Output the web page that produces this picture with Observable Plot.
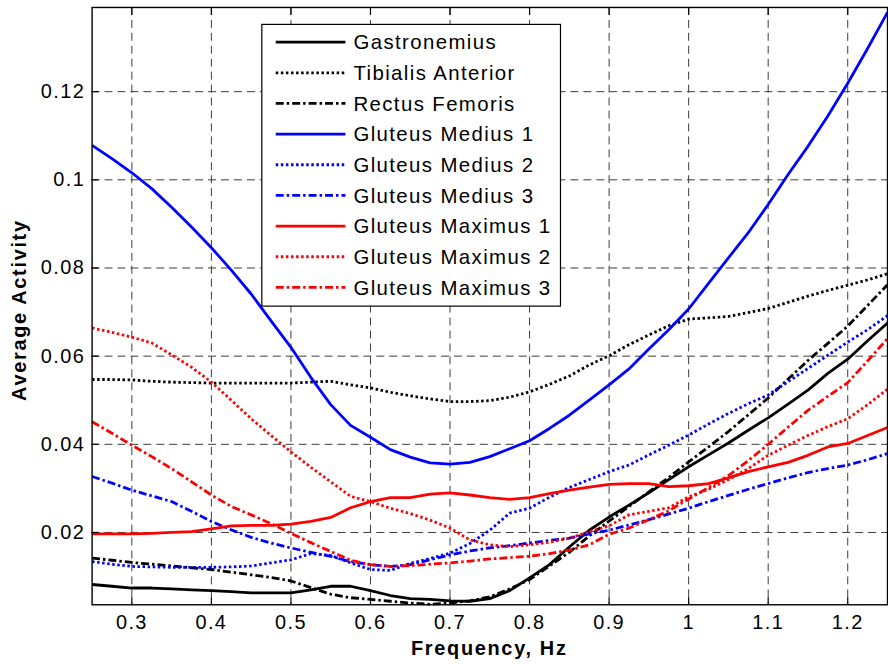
<!DOCTYPE html>
<html><head><meta charset="utf-8">
<script src="https://cdn.jsdelivr.net/npm/d3@7"></script>
<script src="https://cdn.jsdelivr.net/npm/@observablehq/plot@0.6"></script>
<style>html,body{margin:0;padding:0;overflow:hidden;background:#fff}</style>
</head><body><div id="chart"></div>
<script>
const freq = [0.25,0.275,0.3,0.325,0.35,0.375,0.4,0.425,0.45,0.475,0.5,0.525,0.55,0.575,0.6,0.625,0.65,0.675,0.7,0.725,0.75,0.775,0.8,0.825,0.85,0.875,0.9,0.925,0.95,0.975,1,1.025,1.05,1.075,1.1,1.125,1.15,1.175,1.2,1.225,1.25];

const gastronemius = [0.0082,0.0078,0.0074,0.0074,0.0072,0.0070,0.0068,0.0066,0.0063,0.0063,0.0063,0.0070,0.0078,0.0078,0.0068,0.0057,0.0050,0.0048,0.0045,0.0044,0.0050,0.0068,0.0097,0.0127,0.0167,0.0205,0.0235,0.0262,0.0290,0.0320,0.0349,0.0376,0.0403,0.0432,0.0460,0.0491,0.0523,0.0561,0.0593,0.0635,0.0675];
const tibialisAnterior = [0.0547,0.0547,0.0546,0.0543,0.0541,0.0540,0.0539,0.0539,0.0539,0.0539,0.0539,0.0541,0.0543,0.0535,0.0528,0.0518,0.0510,0.0503,0.0497,0.0497,0.0499,0.0507,0.0519,0.0536,0.0555,0.0580,0.0601,0.0626,0.0648,0.0669,0.0684,0.0687,0.0690,0.0699,0.0708,0.0722,0.0736,0.0749,0.0761,0.0773,0.0787];
const rectusFemoris = [0.0142,0.0137,0.0132,0.0128,0.0124,0.0120,0.0116,0.0110,0.0104,0.0098,0.0090,0.0075,0.0060,0.0052,0.0048,0.0044,0.0040,0.0037,0.0040,0.0045,0.0054,0.0072,0.0093,0.0124,0.0155,0.0192,0.0226,0.0259,0.0292,0.0325,0.0360,0.0394,0.0429,0.0467,0.0505,0.0548,0.0590,0.0629,0.0668,0.0715,0.0762];
const gluteusMedius1 = [0.1078,0.1048,0.1016,0.0980,0.0938,0.0893,0.0846,0.0795,0.0741,0.0680,0.0620,0.0552,0.0490,0.0443,0.0416,0.0388,0.0371,0.0358,0.0355,0.0359,0.0372,0.0390,0.0408,0.0436,0.0466,0.0500,0.0535,0.0571,0.0616,0.0660,0.0707,0.0765,0.0823,0.0880,0.0944,0.1012,0.1076,0.1145,0.1219,0.1298,0.1380];
const gluteusMedius2 = [0.0134,0.0128,0.0123,0.0122,0.0121,0.0121,0.0121,0.0122,0.0124,0.0131,0.0138,0.0152,0.0148,0.0131,0.0116,0.0114,0.0130,0.0141,0.0153,0.0175,0.0205,0.0244,0.0255,0.0280,0.0302,0.0320,0.0338,0.0353,0.0376,0.0398,0.0421,0.0446,0.0470,0.0492,0.0512,0.0542,0.0572,0.0602,0.0632,0.0660,0.0692];
const gluteusMedius3 = [0.0327,0.0312,0.0296,0.0283,0.0270,0.0248,0.0225,0.0206,0.0189,0.0176,0.0165,0.0155,0.0146,0.0134,0.0127,0.0123,0.0127,0.0138,0.0149,0.0158,0.0165,0.0170,0.0176,0.0182,0.0187,0.0197,0.0205,0.0217,0.0229,0.0242,0.0255,0.0270,0.0284,0.0298,0.0311,0.0324,0.0336,0.0345,0.0353,0.0365,0.0379];
const gluteusMaximus1 = [0.0197,0.0197,0.0197,0.0198,0.0200,0.0202,0.0208,0.0215,0.0216,0.0216,0.0219,0.0225,0.0234,0.0256,0.0270,0.0279,0.0279,0.0287,0.0290,0.0285,0.0279,0.0275,0.0279,0.0288,0.0296,0.0303,0.0309,0.0311,0.0311,0.0304,0.0306,0.0311,0.0324,0.0338,0.0349,0.0359,0.0375,0.0394,0.0402,0.0420,0.0438];
const gluteusMaximus2 = [0.0664,0.0654,0.0643,0.0630,0.0603,0.0575,0.0541,0.0500,0.0458,0.0420,0.0383,0.0348,0.0315,0.0282,0.0270,0.0255,0.0243,0.0228,0.0210,0.0183,0.0172,0.0168,0.0172,0.0178,0.0187,0.0202,0.0215,0.0240,0.0248,0.0256,0.0281,0.0298,0.0320,0.0345,0.0375,0.0398,0.0420,0.0440,0.0458,0.0490,0.0525];
const gluteusMaximus3 = [0.0451,0.0425,0.0398,0.0372,0.0345,0.0315,0.0285,0.0259,0.0240,0.0220,0.0198,0.0177,0.0157,0.0137,0.0127,0.0123,0.0125,0.0128,0.0131,0.0135,0.0140,0.0143,0.0146,0.0152,0.0160,0.0172,0.0196,0.0210,0.0229,0.0249,0.0276,0.0302,0.0329,0.0363,0.0400,0.0439,0.0477,0.0509,0.0540,0.0589,0.0640];

const seriesNames = ["Gastronemius","Tibialis Anterior","Rectus Femoris","Gluteus Medius 1","Gluteus Medius 2","Gluteus Medius 3","Gluteus Maximus 1","Gluteus Maximus 2","Gluteus Maximus 3"];
const seriesValues = [gastronemius,tibialisAnterior,rectusFemoris,gluteusMedius1,gluteusMedius2,gluteusMedius3,gluteusMaximus1,gluteusMaximus2,gluteusMaximus3];

const xTicks = [0.3,0.4,0.5,0.6,0.7,0.8,0.9,1,1.1,1.2];
const xTickLabels = ["0.3","0.4","0.5","0.6","0.7","0.8","0.9","1","1.1","1.2"];
const yTicks = [0.02,0.04,0.06,0.08,0.1,0.12];
const yTickLabels = ["0.02","0.04","0.06","0.08","0.1","0.12"];

// styles
const colors = ["#000","#000","#000","#0000ff","#0000ff","#0000ff","#ff0000","#ff0000","#ff0000"];
const DOT = "2.5,2.6", DASHDOT = "8,3,2.5,3";
const dashes = [null, DOT, DASHDOT, null, DOT, DASHDOT, null, DOT, DASHDOT];
const LW = 2.8;

const rows = [];
seriesNames.forEach((name, s) => {
  seriesValues[s].forEach((v, i) => rows.push({series: name, f: freq[i], v}));
});

const FONT = "'Liberation Sans', Arial, Helvetica, sans-serif";

const lineMarks = seriesNames.map((name, s) =>
  Plot.line(rows.filter(r => r.series === name), {
    x: "f", y: "v", stroke: colors[s], strokeWidth: LW,
    strokeDasharray: dashes[s] || undefined, strokeLinecap: "butt", strokeLinejoin: "round"
  })
);

const chart = Plot.plot({
  width: 892, height: 664,
  marginLeft: 92, marginRight: 1, marginTop: 7, marginBottom: 57,
  style: {fontFamily: FONT, fontSize: "20px", letterSpacing: "1.4px", background: "white", color: "black"},
  x: {domain: [0.25, 1.25]},
  y: {domain: [0.0036, 0.1391]},
  marks: [
    Plot.gridX(xTicks, {stroke: "#3a3a3a", strokeOpacity: 1, strokeWidth: 1, strokeDasharray: "8,5"}),
    Plot.gridY(yTicks, {stroke: "#3a3a3a", strokeOpacity: 1, strokeWidth: 1, strokeDasharray: "8,5"}),
    ...lineMarks,
    Plot.frame({stroke: "black", strokeWidth: 1.4}),
    Plot.axisX(xTicks, {anchor: "bottom", tickSize: 7, tickPadding: 3, label: null,
      tickFormat: d => xTickLabels[xTicks.indexOf(d)]}),
    Plot.axisX(xTicks, {anchor: "top", tickSize: 7, label: null, tickFormat: () => ""}),
    Plot.axisY(yTicks, {anchor: "left", tickSize: 7, tickPadding: 0, label: null,
      tickFormat: d => yTickLabels[yTicks.indexOf(d)]})
  ]
});

document.getElementById("chart").appendChild(chart);

// ticks point inward (MATLAB style)
d3.select(chart).selectAll('[aria-label$="-axis tick"] path').each(function() {
  const p = d3.select(this);
  const d = p.attr("d");
  if (d) p.attr("d", d.replace(/L(-?[\d.]+),(-?[\d.]+)/, (m, a, b) => `L${-a},${-b}`));
  p.attr("stroke", "black").attr("stroke-width", 1.2);
});

const svg = d3.select(chart);
// axis titles
svg.append("text").attr("x", 491.5).attr("y", 657.5).attr("text-anchor", "middle")
  .attr("font-weight", "bold").attr("fill", "black").style("letter-spacing", "1.7px")
  .text("Frequency, Hz");
svg.append("text").attr("transform", "translate(26,311.5) rotate(-90)").attr("text-anchor", "middle")
  .attr("font-weight", "bold").attr("fill", "black").style("letter-spacing", "1.7px")
  .text("Average Activity");

// legend
const lg = svg.append("g");
lg.append("rect").attr("x", 263).attr("y", 24.5).attr("width", 300).attr("height", 283)
  .attr("fill", "white").attr("stroke", "black").attr("stroke-width", 1.2);
seriesNames.forEach((name, i) => {
  const y = 42.3 + i * 30.8;
  lg.append("line").attr("x1", 277).attr("x2", 347).attr("y1", y).attr("y2", y)
    .attr("stroke", colors[i]).attr("stroke-width", LW)
    .attr("stroke-dasharray", dashes[i] || null);
  lg.append("text").attr("x", 355).attr("y", y).attr("dy", "0.36em")
    .attr("text-anchor", "start").attr("fill", "black").style("font-size", "20.5px").text(name);
});
</script>
</body></html>
